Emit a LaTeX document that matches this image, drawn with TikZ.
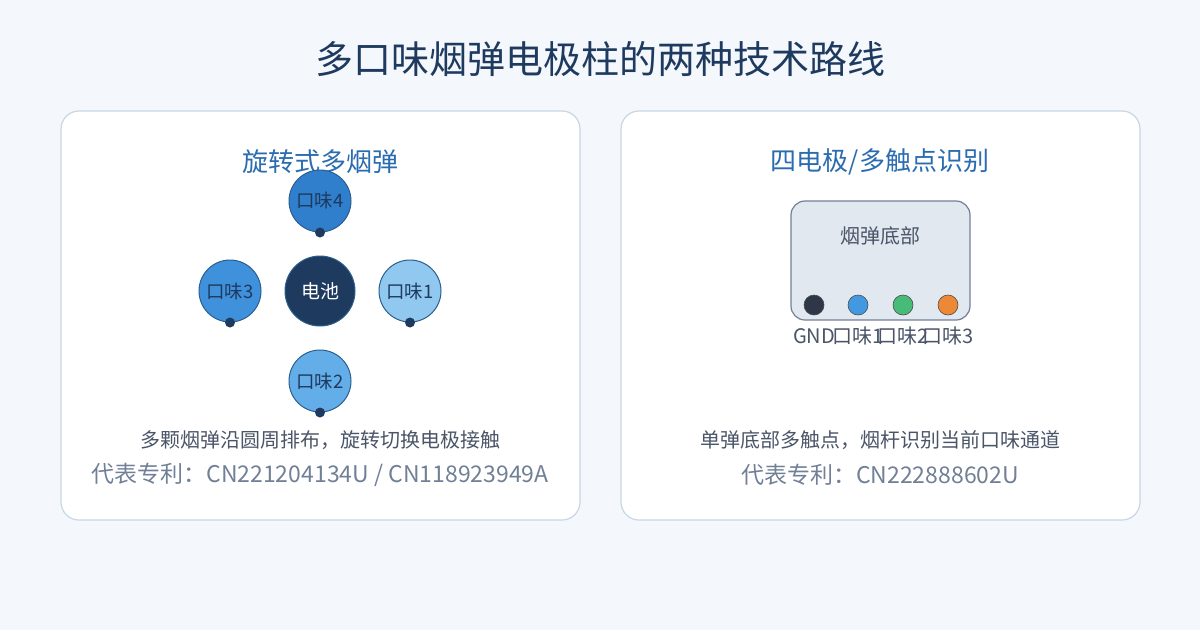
\documentclass[tikz,border=0pt]{standalone}
\usepackage{fontspec}
\setmainfont{Noto Sans CJK SC}
\begin{document}
\begin{tikzpicture}[x=1pt,y=-1pt,
 card/.style={draw=cardline,fill=white,rounded corners=18pt,line width=1.2pt},
 flav/.style={circle,draw=strokeb,line width=1pt,minimum size=62pt,inner sep=0pt,font=\fontsize{18.5}{20}\selectfont,text=navy},
 dot/.style={circle,fill=navy,minimum size=10pt,inner sep=0pt},
 pin/.style={circle,draw=black!70,line width=0.6pt,minimum size=20pt,inner sep=0pt},
 plab/.style={font=\fontsize{20}{22}\selectfont,text=txtgray,inner sep=0pt}]
\definecolor{bg}{HTML}{F4F7FB}
\definecolor{cardline}{HTML}{C8D6E5}
\definecolor{navy}{HTML}{1E3A5F}
\definecolor{strokeb}{HTML}{2A5F90}
\definecolor{ttl}{HTML}{2B6CB0}
\definecolor{txtgray}{HTML}{4A5568}
\definecolor{lightgray}{HTML}{718096}
\useasboundingbox (0,0) rectangle (1200,630);
\fill[bg] (0,0) rectangle (1200,630);
\node[font=\fontsize{38}{42}\selectfont,text=navy] (title) at (600,59) {多口味烟弹电极柱的两种技术路线};
\draw[card] (61,111) rectangle (580,520);
\draw[card] (621,111) rectangle (1140,520);
% left
\node[font=\fontsize{26}{30}\selectfont,text=ttl] (lt) at (320,162) {旋转式多烟弹};
\node[flav,fill={rgb,255:red,47;green,127;blue,204}] (f4) at (320,201) {口味4};
\node[flav,fill={rgb,255:red,63;green,145;blue,220}] (f3) at (230,291) {口味3};
\node[flav,fill={rgb,255:red,144;green,200;blue,240}] (f1) at (410,291) {口味1};
\node[flav,fill={rgb,255:red,99;green,174;blue,232}] (f2) at (320,381) {口味2};
\node[circle,fill=navy,draw=strokeb,line width=1pt,minimum size=70pt,inner sep=0pt,text=white,font=\fontsize{19}{21}\selectfont] (bat) at (320,291) {电池};
\node[dot] (d4) at (f4.south) {};
\node[dot] (d3) at (f3.south) {};
\node[dot] (d1) at (f1.south) {};
\node[dot] (d2) at (f2.south) {};
\node[font=\fontsize{20}{22}\selectfont,text=txtgray] (ld) at (320,440) {多颗烟弹沿圆周排布，旋转切换电极接触};
\node[font=\fontsize{23}{26}\selectfont,text=lightgray] (lp) at (320,475) {代表专利：CN221204134U / CN118923949A};
% right
\node[font=\fontsize{26}{30}\selectfont,text=ttl] (rt) at (880,162) {四电极/多触点识别};
\draw[draw=lightgray,fill={rgb,255:red,226;green,232;blue,240},rounded corners=14pt,line width=1.2pt] (791,201) rectangle (970,320);
\node[font=\fontsize{20}{22}\selectfont,text=txtgray] (bb) at (880,236) {烟弹底部};
\node[pin,fill={rgb,255:red,45;green,55;blue,72}] (p0) at (814,305) {};
\node[pin,fill={rgb,255:red,66;green,153;blue,225}] (p1) at (858,305) {};
\node[pin,fill={rgb,255:red,72;green,187;blue,120}] (p2) at (903,305) {};
\node[pin,fill={rgb,255:red,237;green,137;blue,54}] (p3) at (948,305) {};
\node[plab] (l0) at (814,336) {GND};
\node[plab] (l1) at (858,336) {口味1};
\node[plab] (l2) at (903,336) {口味2};
\node[plab] (l3) at (948,336) {口味3};
\node[font=\fontsize{20}{22}\selectfont,text=txtgray] (rd) at (880,440) {单弹底部多触点，烟杆识别当前口味通道};
\node[font=\fontsize{23}{26}\selectfont,text=lightgray] (rp) at (880,475) {代表专利：CN222888602U};
\end{tikzpicture}
\end{document}
